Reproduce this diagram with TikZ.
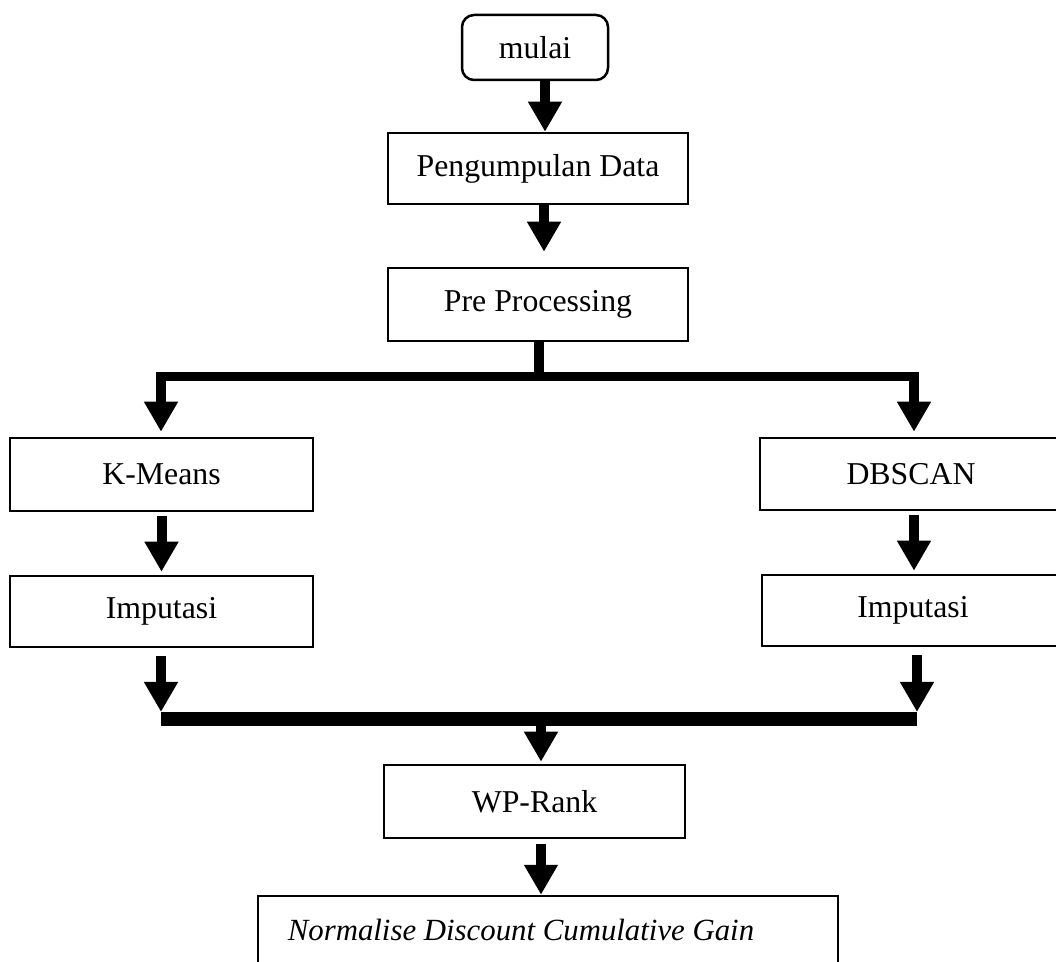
\documentclass[tikz,border=0pt]{standalone}
\usepackage{fontspec}
\setmainfont{Liberation Serif}
\usetikzlibrary{arrows.meta,calc}
\begin{document}
\begin{tikzpicture}[x=0.5pt,y=-0.5pt,
  box/.style={draw=black,line width=1.25pt,rectangle,inner sep=0pt,
    font=\fontsize{15.9}{19}\selectfont},
  arr/.style={line width=5pt,-{Triangle[length=15pt,width=16pt]}},
  topbar/.style={line width=4.5pt},
  botbar/.style={line width=7pt}]
\useasboundingbox (0,0) rectangle (1056,962);
\clip (0,0) rectangle (1056,962);
% boxes
\node[box,rounded corners=6pt,minimum width=73pt,minimum height=32.5pt] (mulai) at (535,47.5) {mulai};
\node[box,minimum width=150pt,minimum height=35.5pt] (peng) at (538,168.5) {Pengumpulan Data};
\node[box,minimum width=150pt,minimum height=36.5pt] (pre) at (538,304.5) {Pre Processing};
\node[box,minimum width=151.5pt,minimum height=36.5pt] (km) at (161.5,474.5) {K-Means};
\node[box,minimum width=151.5pt,minimum height=35.5pt] (impL) at (161.5,611.5) {Imputasi};
\node[box,minimum width=151pt,minimum height=36pt] (db) at (911,474) {DBSCAN};
\node[box,minimum width=151pt,minimum height=35.5pt] (impR) at (913,610.5) {Imputasi};
\node[box,minimum width=150.5pt,minimum height=36.5pt] (wp) at (534.5,801.5) {WP-Rank};
\node[box,minimum width=290pt,minimum height=52pt] (ndcg) at (548,948) {};
\node[font=\fontsize{15.4}{19}\selectfont\itshape,anchor=base,inner sep=0pt] (ndcgt) at (521,940) {Normalise Discount Cumulative Gain};
% coordinates of the bars
\coordinate (tbL) at (161,376.5);
\coordinate (tbR) at (914,376.5);
\coordinate (tbM) at (539,376.5);
\coordinate (bbL) at (161,719);
\coordinate (bbR) at (917,719);
\coordinate (bbM) at (541,719);
% connectors
\draw[arr] ([xshift=5pt]mulai.south) -- ([xshift=5pt]mulai.south |- peng.north);
\draw[arr,shorten >=7.5pt] ([xshift=3pt]peng.south) -- ([xshift=3pt]peng.south |- pre.north);
\draw[line width=5pt] ([xshift=0.5pt]pre.south) -- ([yshift=-2pt]tbM);
\draw[topbar] ([xshift=-2.5pt]tbL) -- ([xshift=2.5pt]tbR);
\draw[arr,shorten >=2.5pt] ([yshift=2.25pt]tbL) -- (tbL |- km.north);
\draw[arr,shorten >=2.5pt] ([yshift=2.25pt]tbR) -- (tbR |- db.north);
\draw[arr,shorten <=2pt,shorten >=1.5pt] (km.south) -- (km.south |- impL.north);
\draw[arr,shorten <=2pt,shorten >=1.5pt] ([xshift=1.5pt]db.south) -- ([xshift=1.5pt]db.south |- impR.north);
\draw[arr,shorten <=4pt] (impL.south -| bbL) -- ([yshift=3.5pt]bbL);
\draw[arr,shorten <=4pt] (impR.south -| bbR) -- ([yshift=3.5pt]bbR);
\draw[botbar] (bbL) -- (bbR);
\draw[arr,shorten >=1pt] ([yshift=3.5pt]bbM) -- (bbM |- wp.north);
\draw[arr,shorten <=2.5pt] ([xshift=3.25pt]wp.south) -- ([xshift=3.25pt]wp.south |- ndcg.north);
\end{tikzpicture}
\end{document}
